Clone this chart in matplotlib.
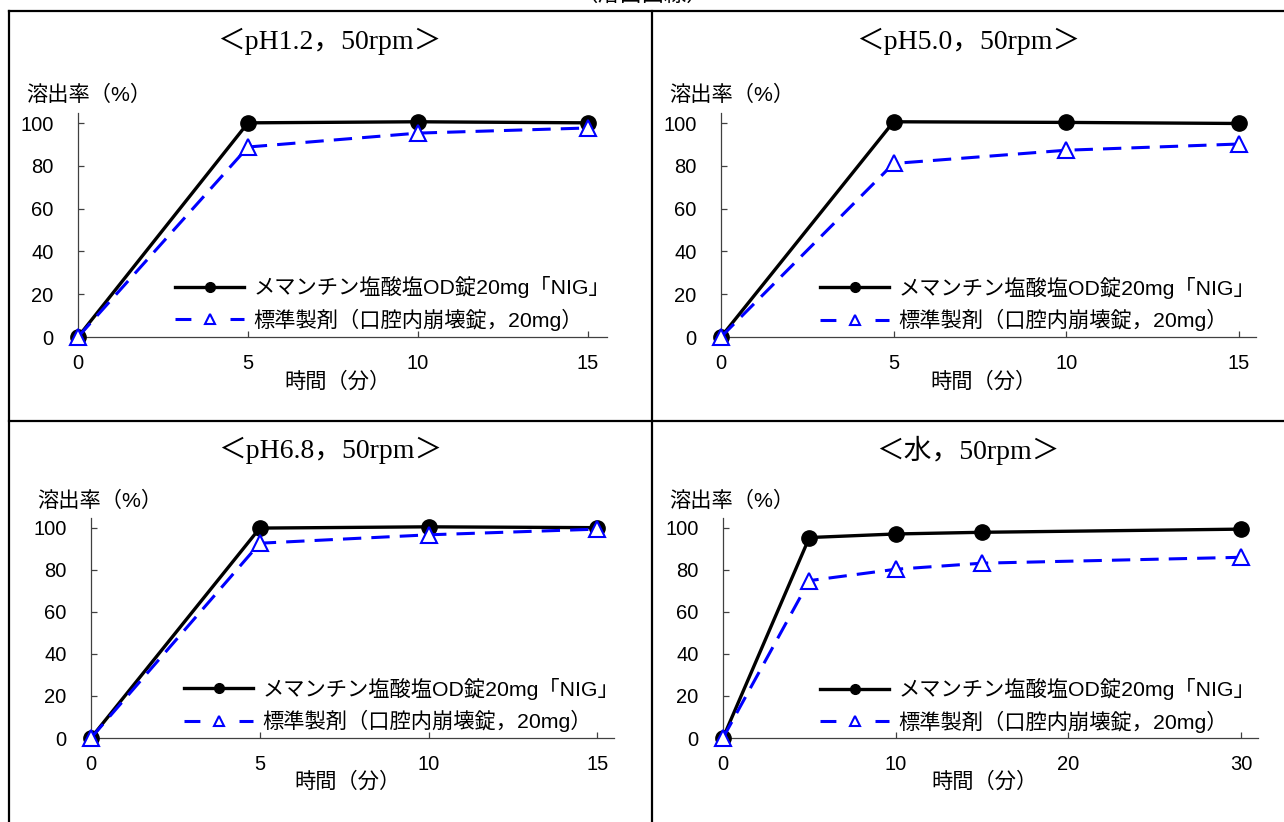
import matplotlib
matplotlib.use("Agg")
import matplotlib.pyplot as plt
from matplotlib.lines import Line2D

W, H = 1284, 822

# ---------------- data ----------------
times_15 = [0, 5, 10, 15]
times_30 = [0, 5, 10, 15, 30]

ph12_test = [0, 100.1, 100.6, 100.1]
ph12_ref = [0, 88.8, 95.3, 97.7]
ph50_test = [0, 100.6, 100.3, 99.8]
ph50_ref = [0, 81.1, 87.3, 90.2]
ph68_test = [0, 99.9, 100.5, 100.1]
ph68_ref = [0, 92.7, 96.7, 99.4]
water_test = [0, 95.4, 97.1, 97.9, 99.4]
water_ref = [0, 74.9, 80.3, 83.2, 86.0]

titles = ["＜pH1.2，50rpm＞", "＜pH5.0，50rpm＞", "＜pH6.8，50rpm＞", "＜水，50rpm＞"]
label_test = "メマンチン塩酸塩OD錠20mg「NIG」"
label_ref = "標準製剤（口腔内崩壊錠，20mg）"
ylabel = "溶出率（%）"
xlabel = "時間（分）"
yticks = [0, 20, 40, 60, 80, 100]
xticks_15 = [0, 5, 10, 15]
xticks_30 = [0, 10, 20, 30]
fig_title = "（溶出曲線）"

SANS = ["Liberation Sans", "Noto Sans CJK JP", "DejaVu Sans"]
SERIF = ["Liberation Serif", "Noto Sans CJK JP", "DejaVu Sans"]
plt.rcParams["font.family"] = SANS

fig = plt.figure(figsize=(W / 100, H / 100), dpi=100)


def fx(px):
    return px / W


def fy(py):
    return 1 - py / H


def ax_px(l, t, r, b):
    return fig.add_axes([fx(l), fy(b), (r - l) / W, (b - t) / H])


panels = [
    dict(box=(78, 113, 607, 337), x=times_15, test=ph12_test, ref=ph12_ref, xt=xticks_15, xmax=15.56,
         title=(329, 41), xl=(337, 382), yl=(26, 95), leg=(175, 287, 320)),
    dict(box=(721, 113, 1256, 337), x=times_15, test=ph50_test, ref=ph50_ref, xt=xticks_15, xmax=15.5,
         title=(968, 41), xl=(984, 382), yl=(669, 95), leg=(820, 288, 320)),
    dict(box=(91, 518, 614, 738), x=times_15, test=ph68_test, ref=ph68_ref, xt=xticks_15, xmax=15.49,
         title=(330, 450), xl=(347, 782), yl=(37, 501), leg=(184, 689, 721)),
    dict(box=(723, 518, 1258, 738), x=times_30, test=water_test, ref=water_ref, xt=xticks_30, xmax=30.98,
         title=(968, 450), xl=(985, 782), yl=(669, 501), leg=(820, 690, 721)),
]

FS = 15.3

for p, title in zip(panels, titles):
    ax = ax_px(*p["box"])
    ax.plot(p["x"], p["test"], color="black", lw=2.4, marker="o", ms=11,
            mfc="black", mec="black", clip_on=False, zorder=4)
    ax.plot(p["x"], p["ref"], color="#0000FF", lw=2.2, dashes=(6, 3.3), marker="^", ms=12,
            mfc="white", mec="#0000FF", mew=1.5, clip_on=False, zorder=5)
    ax.set_xlim(0, p["xmax"])
    ax.set_ylim(0, 104.7)
    ax.set_xticks(p["xt"])
    ax.set_yticks(yticks)
    for sp in ["top", "right"]:
        ax.spines[sp].set_visible(False)
    for sp in ["left", "bottom"]:
        ax.spines[sp].set_color("#404040")
        ax.spines[sp].set_linewidth(0.9)
    ax.tick_params(axis="both", direction="in", length=4, width=0.9, color="#404040",
                   labelsize=14.5, labelcolor="black")
    ax.tick_params(axis="y", pad=17.5)
    ax.tick_params(axis="x", pad=12)
    ax.patch.set_alpha(0)

    fig.text(fx(p["title"][0]), fy(p["title"][1]), title, family=SERIF, fontsize=20,
             ha="center", va="center")
    fig.text(fx(p["xl"][0]), fy(p["xl"][1]), xlabel, fontsize=FS, ha="center", va="center")
    fig.text(fx(p["yl"][0]), fy(p["yl"][1]), ylabel, fontsize=FS, ha="left", va="center")

    h1 = Line2D([], [], color="black", lw=2.4, marker="o", ms=7, mfc="black", mec="black")
    h2 = Line2D([], [], color="#0000FF", lw=2.2, dashes=(5.2, 12.8), marker="^", ms=6.5,
                mfc="white", mec="#0000FF", mew=1.5)
    lx, r1, r2 = p["leg"]
    ax.legend([h1, h2], [label_test, label_ref], loc="center left",
              bbox_to_anchor=(fx(lx), fy((r1 + r2) / 2)), bbox_transform=fig.transFigure,
              frameon=False, borderpad=0, borderaxespad=0, handlelength=3.26,
              handletextpad=0.42, labelspacing=0.47, prop=dict(family=SANS, size=FS))

# cell borders
lw_b = 1.6
fig.add_artist(Line2D([fx(8.5), 1], [fy(11), fy(11)], color="black", lw=lw_b, transform=fig.transFigure))
fig.add_artist(Line2D([fx(8.5), fx(8.5)], [fy(11), 0], color="black", lw=lw_b, transform=fig.transFigure))
fig.add_artist(Line2D([fx(652), fx(652)], [fy(11), 0], color="black", lw=lw_b, transform=fig.transFigure))
fig.add_artist(Line2D([fx(8.5), 1], [fy(421), fy(421)], color="black", lw=lw_b, transform=fig.transFigure))

# figure caption, partly cut off at the top edge as in the reference
fig.text(0.5, fy(1), fig_title, family=SERIF, fontsize=16, ha="center", va="baseline")

fig.savefig("out.png", dpi=100)
